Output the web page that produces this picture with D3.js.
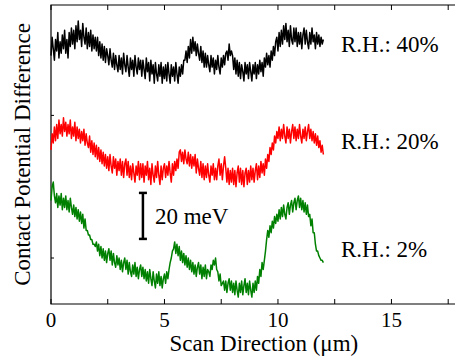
<!DOCTYPE html>
<html>
<head>
<meta charset="utf-8">
<script src="https://cdn.jsdelivr.net/npm/d3@7"></script>
<style>
    body { margin: 0; background: #fff; }
</style>
</head>
<body>
<div id="chart"></div>
<script>
// CPD line scans, sampled every 0.05 um from 0 to 12 um (values in meV, stacked)
const scanStep = 0.05;
const xTicks = [0, 5, 10, 15];
const xMinorTicks = [2.5, 7.5, 12.5, 17.5];
const yTicks = [20, 82];
const labels = ['R.H.: 40%', 'R.H.: 20%', 'R.H.: 2%'];
const colors = ['#000000', '#ff0000', '#008000'];

const rh40 = [
    108,116,111,106,115,110,118,107,114,109,117,111,119,109,115,107,118,112,120,113,
    119,111,121,114,123,115,119,112,122,116,113,120,111,118,112,119,110,117,111,116,
    110,116,108,114,107,113,106,112,105,111,108,104,111,106,103,109,102,108,104,101,
    108,102,107,100,109,104,101,108,103,99,107,102,106,99,108,103,100,107,102,106,
    99,106,102,98,107,101,105,97,106,100,104,96,105,100,97,104,99,105,96,103,
    98,104,97,105,100,96,104,99,103,97,105,100,96,103,99,104,100,106,106,110,
    105,112,107,115,109,116,110,114,108,113,109,106,112,105,110,103,109,103,108,104,
    101,108,103,107,100,106,102,108,103,100,107,103,108,104,109,110,106,113,108,110,
    108,102,107,100,106,99,105,98,104,101,97,105,100,104,98,105,101,97,104,100,
    105,98,104,100,106,101,105,99,107,103,109,104,108,103,110,106,112,108,114,116,
    110,118,112,119,113,121,115,122,114,119,112,121,115,113,120,114,120,112,118,113,
    118,111,117,120,113,119,114,111,118,113,120,114,117,111,118,113,117,112,116,113,
    115
];
const rh20 = [
    67,74,70,77,71,78,72,80,74,78,73,81,75,79,73,78,74,80,72,77,
    73,79,71,77,72,76,70,75,71,76,69,74,70,68,73,66,71,65,70,64,
    69,63,68,62,67,61,66,60,65,59,64,58,65,60,57,64,59,63,56,62,
    58,63,56,62,55,61,63,56,62,55,60,54,61,57,53,60,56,62,54,61,
    55,61,53,60,56,62,54,59,52,61,56,53,60,55,62,56,52,60,54,59,
    61,55,60,56,62,57,53,61,56,62,58,63,59,66,67,62,66,61,67,63,
    61,66,60,65,59,64,60,65,57,63,59,56,62,55,61,54,60,55,61,56,
    53,60,56,61,54,59,54,60,63,56,61,54,60,64,59,53,59,52,58,53,
    59,52,58,51,57,60,53,59,52,58,51,57,59,52,58,53,60,54,59,53,
    58,61,54,60,55,62,57,61,56,63,59,65,62,68,65,70,67,73,70,75,
    72,77,71,76,72,78,73,70,77,72,76,70,75,78,72,77,71,76,72,78,
    73,70,76,72,77,71,75,78,72,76,71,75,70,74,69,73,68,71,66,69,
    65
];
const rh2 = [
    45,51,53,47,44,48,42,47,43,48,41,46,42,47,41,45,40,46,42,39,
    43,38,42,37,41,36,40,35,39,33,37,32,32,30,30,28,28,26,26,25,
    27,23,26,21,25,20,24,19,23,18,22,24,19,23,17,22,18,16,21,17,
    20,15,19,14,18,20,15,19,13,18,14,12,17,13,18,12,16,11,15,17,
    12,16,11,15,10,14,9,15,11,8,14,10,7,13,9,14,8,12,7,11,
    13,9,14,11,15,18,20,23,24,27,22,26,21,25,19,23,18,22,17,21,
    16,20,15,19,14,18,13,17,12,16,18,13,17,11,16,12,17,11,15,14,
    12,17,15,19,17,20,15,14,10,13,8,9,10,6,10,5,9,11,6,10,
    5,9,4,10,6,3,9,5,10,4,8,11,5,9,4,10,6,3,9,5,
    10,6,12,9,15,12,18,15,19,23,28,32,29,34,31,36,33,38,35,39,
    36,41,37,42,38,43,39,37,42,44,39,43,45,40,44,46,41,45,47,42,
    46,41,45,40,44,39,43,38,39,34,37,31,31,26,23,23,21,20,19,19,
    18
];
const labelValues = [113, 71, 24];
const scaleBar = { x: 4.05, from: 28.3, to: 48.3, text: '20 meV' };

const serif = "'Liberation Serif', 'Times New Roman', 'DejaVu Serif', serif";

const margin = { top: 5, right: 0, bottom: 56, left: 51 },
    width = 455 - margin.left - margin.right,
    height = 360 - margin.top - margin.bottom;

const svg = d3.select('#chart').append('svg')
    .attr('width', 455)
    .attr('height', 360)
    .attr('font-family', serif);

const g = svg.append('g')
    .attr('transform', `translate(${margin.left},${margin.top})`);

const x = d3.scaleLinear().domain([0, 17.8]).range([0, width]);
const y = d3.scaleLinear().domain([0, 130]).range([height, 0]);

// frame: left, top, bottom (no right spine)
g.append('path')
    .attr('d', `M${width + 2},0H0V${height}H${width + 2}`)
    .attr('fill', 'none')
    .attr('stroke', '#000')
    .attr('stroke-width', 1.2);

// ticks inside
const allX = xTicks.concat(xMinorTicks);
g.selectAll('.xtick-b').data(allX).enter().append('line')
    .attr('x1', d => x(d)).attr('x2', d => x(d))
    .attr('y1', height).attr('y2', height - 5)
    .attr('stroke', '#000');
g.selectAll('.xtick-t').data(allX).enter().append('line')
    .attr('x1', d => x(d)).attr('x2', d => x(d))
    .attr('y1', 0).attr('y2', 5)
    .attr('stroke', '#000');
g.selectAll('.ytick').data(yTicks).enter().append('line')
    .attr('x1', 0).attr('x2', 3)
    .attr('y1', d => y(d)).attr('y2', d => y(d))
    .attr('stroke', '#000');

g.selectAll('.xlabel').data(xTicks).enter().append('text')
    .attr('x', d => x(d))
    .attr('y', height + 23)
    .attr('text-anchor', 'middle')
    .attr('font-family', serif)
    .style('font-size', '21px')
    .text(d => d);

// traces
const line = d3.line()
    .x((d, i) => x(i * scanStep))
    .y(d => y(d));

[rh40, rh20, rh2].forEach((series, k) => {
    g.append('path')
        .datum(series)
        .attr('d', line)
        .attr('fill', 'none')
        .attr('stroke', colors[k])
        .attr('stroke-width', 1.5)
        .attr('stroke-linejoin', 'round');

    g.append('text')
        .attr('x', 290)
        .attr('y', y(labelValues[k]) + 8)
        .attr('font-family', serif)
        .style('font-size', '23px')
        .text(labels[k]);
});

// 20 meV scale bar
const sb = g.append('g').attr('stroke', '#000').attr('stroke-width', 2.5);
sb.append('line')
    .attr('x1', x(scaleBar.x)).attr('x2', x(scaleBar.x))
    .attr('y1', y(scaleBar.from)).attr('y2', y(scaleBar.to));
[scaleBar.from, scaleBar.to].forEach(v => {
    sb.append('line')
        .attr('x1', x(scaleBar.x) - 4).attr('x2', x(scaleBar.x) + 4)
        .attr('y1', y(v)).attr('y2', y(v));
});
g.append('text')
    .attr('x', x(scaleBar.x) + 12)
    .attr('y', y((scaleBar.from + scaleBar.to) / 2) + 8)
    .attr('font-family', serif)
    .style('font-size', '23px')
    .text(scaleBar.text);

// axis titles
svg.append('text')
    .attr('x', margin.left + x(9.38))
    .attr('y', 351)
    .attr('text-anchor', 'middle')
    .attr('font-family', serif)
    .style('font-size', '23px')
    .text('Scan Direction (μm)');

svg.append('text')
    .attr('transform', `translate(30,${margin.top + height / 2}) rotate(-90)`)
    .attr('text-anchor', 'middle')
    .attr('font-family', serif)
    .style('font-size', '23px')
    .text('Contact Potential Difference');
</script>
</body>
</html>
